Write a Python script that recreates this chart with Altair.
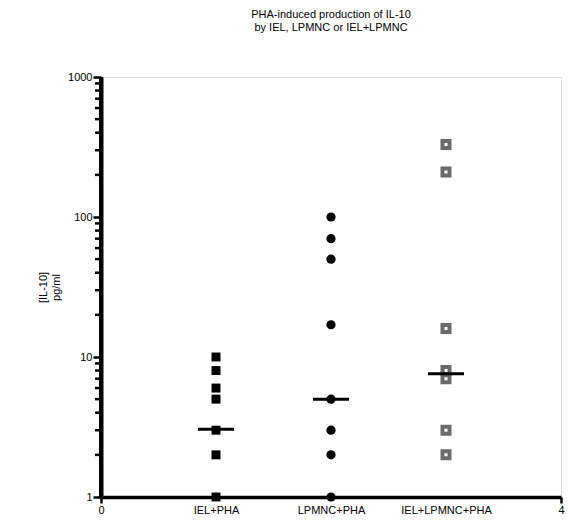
import altair as alt
import pandas as pd

groups = ["IEL+PHA", "LPMNC+PHA", "IEL+LPMNC+PHA"]
group_pos = [1, 2, 3]
iel_vals = [10, 8, 6, 5, 3, 2, 1]
lpmnc_vals = [100, 70, 50, 17, 5, 3, 2, 1]
both_vals = [330, 210, 16, 8, 7, 3, 2]
medians = [3.05, 5.0, 7.6]
y_major = [1, 10, 100, 1000]
y_minor = [2, 3, 4, 5, 6, 7, 8, 9, 20, 30, 40, 50, 60, 70, 80, 90,
           200, 300, 400, 500, 600, 700, 800, 900]

FONT = "Liberation Sans"

df_iel = pd.DataFrame({"x": group_pos[0], "y": iel_vals})
df_lp = pd.DataFrame({"x": group_pos[1], "y": lpmnc_vals})
df_both = pd.DataFrame({"x": group_pos[2], "y": both_vals})
df_med = pd.DataFrame({"x": group_pos, "y": medians})
df_minor = pd.DataFrame({"x": 0, "y": y_minor})
df_yline = pd.DataFrame({"x": [0], "y": [y_major[0]], "y2": [y_major[-1]]})

label_expr = "datum.value == 0 ? '0' : datum.value == 4 ? '4' : " + " : ".join(
    f"datum.value == {p} ? '{g}'" for p, g in zip(group_pos, groups)) + " : ''"

xscale = alt.Scale(domain=[0, 4], nice=False, zero=False)
yscale = alt.Scale(type="log", domain=[1, 1000], nice=False)

xaxis = alt.Axis(
    title=None, values=[0, 1, 2, 3, 4], labelExpr=label_expr, grid=False,
    domainColor="black", domainWidth=3.5, tickWidth=2.5, tickSize=6,
    tickColor={"condition": {"test": "datum.value == 0 || datum.value == 4", "value": "black"},
               "value": "transparent"},
    labelFont=FONT, labelFontSize=11, labelColor="black", labelPadding=1,
    labelFlush=False, labelOverlap=False,
)

yaxis = alt.Axis(
    title=["[IL-10]", "pg/ml"], values=y_major, format="d",
    grid=False, domainColor="black", domainWidth=4, tickWidth=2.5,
    tickSize=8, tickColor="black",
    labelFont=FONT, labelFontSize=11, labelColor="black", labelPadding=1,
    labelOverlap=False, labelFlush=False,
    titleFont=FONT, titleFontSize=11, titleFontWeight="normal", titleColor="black",
    titlePadding=6,
)

X = alt.X("x:Q", scale=xscale, axis=xaxis)
Y = alt.Y("y:Q", scale=yscale, axis=yaxis)

yline = alt.Chart(df_yline).mark_rule(
    color="black", strokeWidth=4, clip=False
).encode(x=X, y=Y, y2="y2:Q")

minor = alt.Chart(df_minor).mark_tick(
    orient="horizontal", color="black", size=6, thickness=2.5, opacity=1,
    xOffset=-3, clip=False
).encode(x=X, y=Y)

pts_iel = alt.Chart(df_iel).mark_point(
    shape="square", filled=True, color="black", size=80, opacity=1, clip=False
).encode(x=X, y=Y)

pts_lp = alt.Chart(df_lp).mark_point(
    shape="circle", filled=True, color="black", size=85, opacity=1, clip=False
).encode(x=X, y=Y)

pts_both = alt.Chart(df_both).mark_point(
    shape="square", filled=True, fill="white", stroke="#6b6b6b", strokeWidth=4,
    size=49, opacity=1, clip=False
).encode(x=X, y=Y)

med = alt.Chart(df_med).mark_tick(
    orient="horizontal", color="black", size=36, thickness=3, opacity=1, clip=False
).encode(x=X, y=Y)

chart = alt.layer(yline, minor, pts_iel, pts_lp, pts_both, med).properties(
    width=460, height=420,
    title=alt.TitleParams(
        ["PHA-induced production of IL-10", "by IEL, LPMNC or IEL+LPMNC"],
        font=FONT, fontSize=11, fontWeight="normal", color="black",
        anchor="middle", offset=38,
    ),
    autosize=alt.AutoSizeParams(type="none"),
    padding={"left": 93, "top": 69, "right": 4, "bottom": 22},
).configure_view(stroke=None).configure(background="white")

chart.save("out.html", embed_options={"renderer": "svg", "actions": False})
